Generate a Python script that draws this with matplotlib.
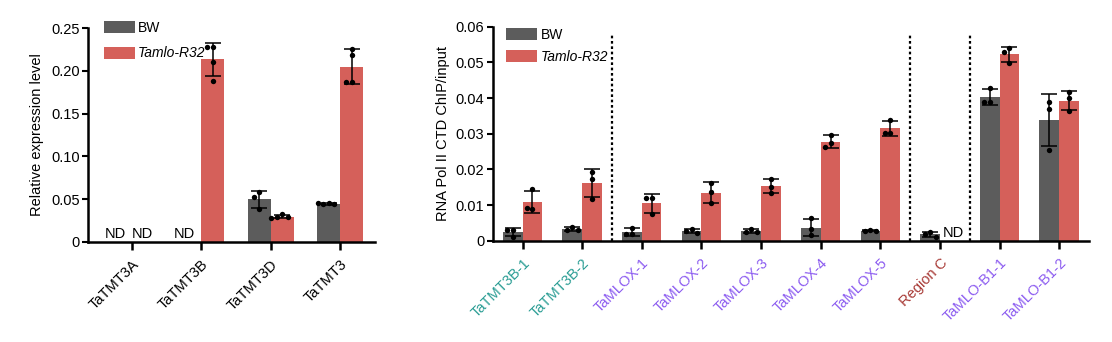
import matplotlib
matplotlib.use("Agg")
import matplotlib.pyplot as plt
import numpy as np

plt.rcParams["font.family"] = ["Liberation Sans", "DejaVu Sans"]
plt.rcParams["font.size"] = 9.5

BW_COLOR = "#5c5c5c"
MUT_COLOR = "#d5605a"

# --- panel A: qRT-PCR expression ---
genes_a = ["TaTMT3A", "TaTMT3B", "TaTMT3D", "TaTMT3"]
bw_a = [None, None, [0.058, 0.053, 0.0386], [0.046, 0.044, 0.044, 0.045]]
mut_a = [None, [0.228, 0.228, 0.210, 0.188], [0.033, 0.029, 0.029, 0.028],
         [0.226, 0.219, 0.187, 0.187]]
yticks_a = [0, 0.05, 0.10, 0.15, 0.20, 0.25]
yticklabels_a = ["0", "0.05", "0.10", "0.15", "0.20", "0.25"]

# --- panel B: Pol II ChIP ---
regions_b = ["TaTMT3B-1", "TaTMT3B-2", "TaMLOX-1", "TaMLOX-2", "TaMLOX-3",
             "TaMLOX-4", "TaMLOX-5", "Region C", "TaMLO-B1-1", "TaMLO-B1-2"]
region_colors = ["#2a9d94", "#2a9d94", "#8c5cf0", "#8c5cf0", "#8c5cf0",
                 "#8c5cf0", "#8c5cf0", "#a83a36", "#8c5cf0", "#8c5cf0"]
bw_b = [[0.0030, 0.0030, 0.0011], [0.0039, 0.0029, 0.0029],
        [0.0036, 0.0018, 0.0018], [0.0034, 0.0027, 0.0022],
        [0.0033, 0.0025, 0.0024], [0.0063, 0.0032, 0.0016],
        [0.0029, 0.0026, 0.0028], [0.0024, 0.0018, 0.0011],
        [0.0429, 0.0390, 0.0390], [0.0390, 0.0368, 0.0254]]
mut_b = [[0.0145, 0.0090, 0.0092], [0.0193, 0.0172, 0.0117],
         [0.0120, 0.0120, 0.0074], [0.0163, 0.0136, 0.0106],
         [0.0173, 0.0150, 0.0135], [0.0297, 0.0273, 0.0263],
         [0.0339, 0.0303, 0.0303], None,
         [0.0539, 0.0530, 0.0499], [0.0416, 0.0399, 0.0364]]
yticks_b = [0, 0.01, 0.02, 0.03, 0.04, 0.05, 0.06]
yticklabels_b = ["0", "0.01", "0.02", "0.03", "0.04", "0.05", "0.06"]
dividers_b = [1.5, 6.5, 7.5]

WIDTH = 0.33


def swarm_offsets(ax, x, ys, diam_px=5.0):
    # spread overlapping dots sideways, in pixel space
    pts = ax.transData.transform(np.column_stack([np.full(len(ys), x), ys]))
    placed = []
    offs = []
    steps = [0, -1, 1, -2, 2]
    for px, py in pts:
        for s in steps:
            cx = px + s * diam_px * 1.1
            if all((cx - qx) ** 2 + (py - qy) ** 2 >= (diam_px * 1.0) ** 2
                   for qx, qy in placed):
                break
        placed.append((cx, py))
        offs.append(cx)
    inv = ax.transData.inverted()
    return [inv.transform((o, 0))[0] for o in offs]


def draw_group(ax, x, vals, color, label):
    vals = np.asarray(vals)
    m, sd = vals.mean(), vals.std(ddof=1)
    ax.bar(x, m, WIDTH, color=color, label=label, zorder=1)
    ax.errorbar(x, m, yerr=sd, fmt="none", ecolor="black", elinewidth=1.1,
                capsize=6, capthick=1.1, zorder=2)
    xs = swarm_offsets(ax, x, vals)
    ax.scatter(xs, vals, s=15, color="black", zorder=3, linewidths=0)


def style_axes(ax, yticks, ylabels):
    for side in ("top", "right"):
        ax.spines[side].set_visible(False)
    for side in ("left", "bottom"):
        ax.spines[side].set_linewidth(1.8)
    ax.set_yticks(yticks)
    ax.set_yticklabels(ylabels, fontsize=10.5)
    ax.tick_params(axis="y", length=4, width=1.5, pad=2)
    ax.tick_params(axis="x", length=6, width=1.8, pad=5)


def add_legend(ax, anchor, spacing):
    handles, labels = ax.get_legend_handles_labels()
    order = [labels.index("BW"), labels.index("Tamlo-R32")]
    ax.legend([handles[k] for k in order], [labels[k] for k in order],
              loc="upper left", bbox_to_anchor=anchor, frameon=False,
              handlelength=2.2, handleheight=0.95, handletextpad=0.25,
              labelspacing=spacing, borderpad=0, borderaxespad=0, fontsize=10)
    ax.get_legend().get_texts()[1].set_fontstyle("italic")


fig = plt.figure(figsize=(11.12, 3.42), dpi=100)

# panel A
ax1 = fig.add_axes([0.0791, 0.2924, 0.258, 0.6257])
ax1.set_xlim(-0.63, 3.5)
ax1.set_ylim(0, 0.25)
for i, g in enumerate(genes_a):
    if bw_a[i] is None:
        ax1.text(i - 0.24, 0.0008, "ND", ha="center", va="bottom", fontsize=10.5)
    else:
        draw_group(ax1, i - WIDTH / 2, bw_a[i], BW_COLOR, "BW" if i == 2 else None)
    if mut_a[i] is None:
        ax1.text(i + 0.16, 0.0008, "ND", ha="center", va="bottom", fontsize=10.5)
    else:
        draw_group(ax1, i + WIDTH / 2, mut_a[i], MUT_COLOR,
                   "Tamlo-R32" if i == 1 else None)
style_axes(ax1, yticks_a, yticklabels_a)
ax1.set_xticks(range(len(genes_a)))
ax1.set_xticklabels(genes_a, rotation=45, ha="right", rotation_mode="anchor",
                    fontsize=10.5)
ax1.set_ylabel("Relative expression level", fontsize=10.5, labelpad=5)
add_legend(ax1, (0.056, 1.035), 0.85)

# panel B
ax2 = fig.add_axes([0.4431, 0.2962, 0.5362, 0.6257])
ax2.set_xlim(-0.5, 9.5)
ax2.set_ylim(0, 0.06)
for i, r in enumerate(regions_b):
    draw_group(ax2, i - WIDTH / 2, bw_b[i], BW_COLOR, "BW" if i == 0 else None)
    if mut_b[i] is None:
        ax2.text(i + 0.22, 0.0002, "ND", ha="center", va="bottom", fontsize=10.5)
    else:
        draw_group(ax2, i + WIDTH / 2, mut_b[i], MUT_COLOR,
                   "Tamlo-R32" if i == 0 else None)
for xd in dividers_b:
    ax2.axvline(xd, ymin=0, ymax=0.965, color="black", lw=1.6,
                linestyle=(0, (1.2, 1.2)), zorder=0)
style_axes(ax2, yticks_b, yticklabels_b)
ax2.set_xticks(range(len(regions_b)))
ax2.set_xticklabels(regions_b, rotation=45, ha="right", rotation_mode="anchor",
                    fontsize=10.5)
for lbl, c in zip(ax2.get_xticklabels(), region_colors):
    lbl.set_color(c)
ax2.set_ylabel("RNA Pol II CTD ChIP/input", fontsize=10.5, labelpad=4)
add_legend(ax2, (0.023, 0.995), 0.6)

fig.savefig("out.png", dpi=100)
